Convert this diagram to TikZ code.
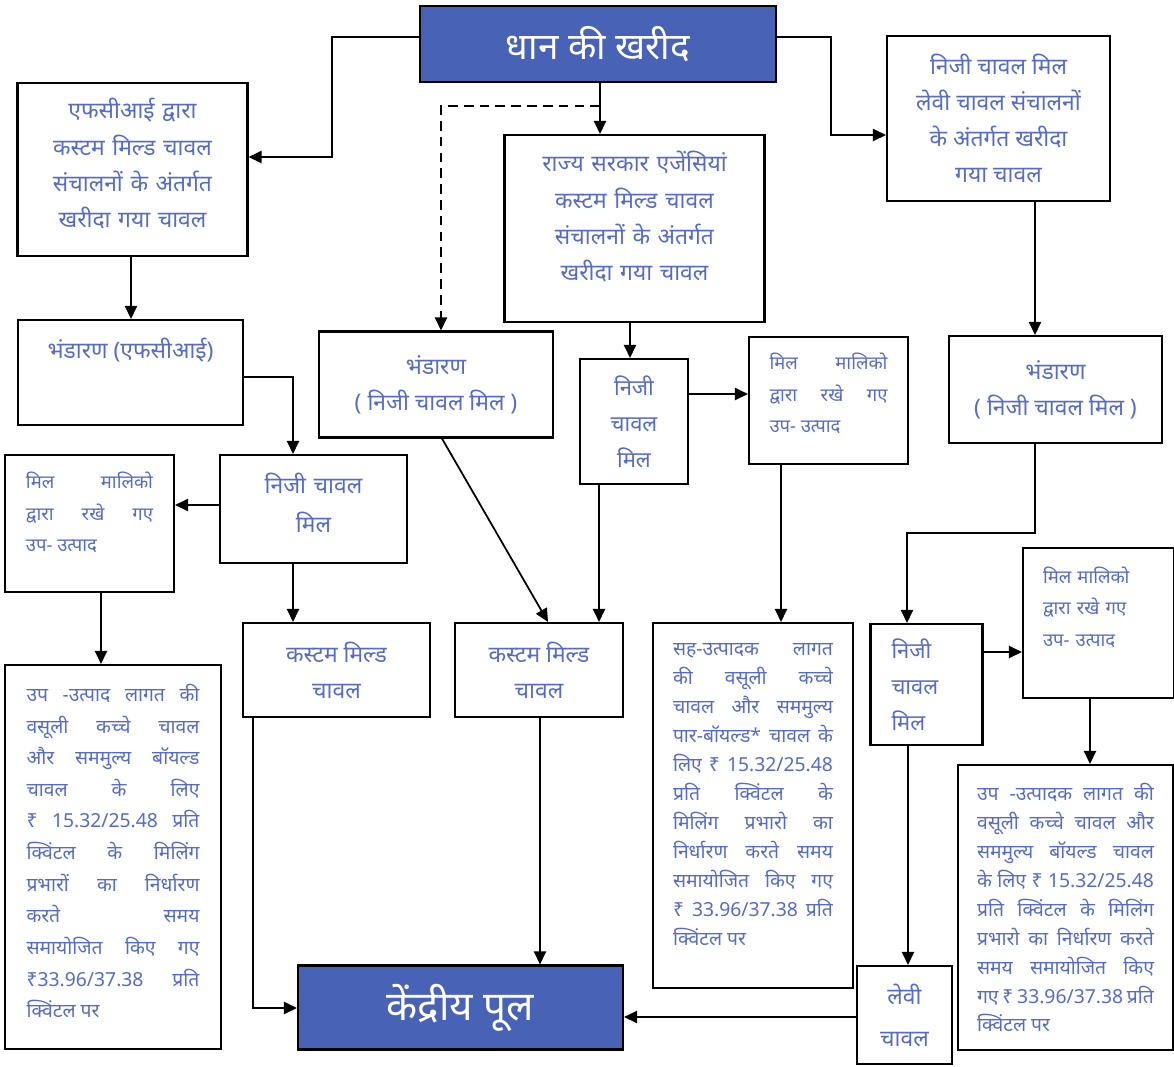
\documentclass[tikz,border=0pt]{standalone}
\usepackage{fontspec}
\setmainfont{Noto Sans}[Script=Devanagari]
\usetikzlibrary{arrows.meta}
\definecolor{hdblue}{RGB}{72,99,181}
\definecolor{txblue}{RGB}{86,108,196}
\newcommand{\boxfont}{\fontsize{13}{20.5}\selectfont}
\newcommand{\millfont}{\fontsize{12.5}{20.5}\selectfont}
\newcommand{\bypfont}{\fontsize{10.5}{18}\selectfont}
\newcommand{\notefont}{\fontsize{11}{16.5}\selectfont}
\newcommand{\headfont}{\fontsize{21}{24}\selectfont}
% push a block of text up inside its box (offset in pixels)
\newcommand{\lift}[1]{\par\vspace*{\dimexpr 0.04cm*#1\relax}}
\tolerance=10000
\hbadness=10000
\hyphenpenalty=10000

\begin{document}
\begin{tikzpicture}[x=0.02cm, y=-0.02cm, >={Triangle[length=7.5pt,width=7pt]},
		box/.style={draw, line width=1.2pt, text=txblue, inner sep=0pt, align=center, font=\boxfont},
		sz/.style 2 args={minimum width=#1*0.02cm, minimum height=#2*0.02cm},
		head/.style={box, fill=hdblue, text=white, font=\headfont},
		note/.style={box, font=\notefont, align=justify, text width=#1*0.02cm},
		arr/.style={->, line width=1pt}]
		\path[use as bounding box, fill=white] (0,0) rectangle (1174,1066);
		% procurement and the three purchase routes
		\node[head, sz={356}{76}] (paddy) at (598,44) {धान की खरीद};
		\node[box, sz={230}{173}, text width=210*0.02cm] (fci) at (132.5,169.5) {एफसीआई द्वारा\\ कस्टम मिल्ड चावल\\ संचालनों के अंतर्गत\\ खरीदा गया चावल\lift{6}};
		\node[box, sz={260}{187}, text width=240*0.02cm] (state) at (634.5,228.5) {राज्य सरकार एजेंसियां\\ कस्टम मिल्ड चावल\\ संचालनों के अंतर्गत\\ खरीदा गया चावल\lift{12}};
		\node[box, sz={223}{165}] (levy) at (998.5,118.5) {निजी चावल मिल\\ लेवी चावल संचालनों\\ के अंतर्गत खरीदा\\ गया चावल};
		% storage
		\node[box, sz={225}{105}, text depth=28pt] (storfci) at (130.5,372.5) {भंडारण (एफसीआई)};
		\node[box, sz={234}{106}] (stormid) at (436,384.5) {भंडारण\\ ( निजी चावल मिल )};
		\node[box, sz={213}{107}] (storlev) at (1055.5,389.5) {भंडारण\\ ( निजी चावल मिल )};
		% mills and by-products
		\node[box, sz={187}{108}, font=\fontsize{13}{22.5}\selectfont, text width=160*0.02cm] (millfci) at (313.5,509) {निजी चावल\\ मिल\lift{6}};
		\node[note=127, sz={169}{137}, font=\bypfont] (bypfci) at (89.5,523.5) {मिल मालिको\linebreak द्वारा रखे गए\linebreak उप- उत्पाद\lift{11}};
		\node[box, sz={108}{125}, font=\millfont] (millst) at (634,421.5) {निजी\\ चावल\\ मिल};
		\node[note=118, sz={159}{127}, font=\bypfont] (bypst) at (828.5,400.5) {मिल मालिको\linebreak द्वारा रखे गए\linebreak उप- उत्पाद\lift{7}};
		\node[box, sz={112}{121}, font=\millfont, text width=70*0.02cm, align=left] (milllev) at (926.5,684.5) {निजी\\ चावल\\ मिल};
		\node[box, sz={151}{150}, font=\bypfont, text width=111*0.02cm, align=left] (byplev) at (1098.5,623) {मिल मालिको\\ द्वारा रखे गए\\ उप- उत्पाद\lift{16}};
		\node[box, sz={187}{94}] (cmrfci) at (336.5,670) {कस्टम मिल्ड\\ चावल};
		\node[box, sz={168}{94}] (cmrst) at (539,670) {कस्टम मिल्ड\\ चावल};
		% cost notes
		\node[note=173, sz={216}{384}, font=\fontsize{11}{18}\selectfont] (notefci) at (113,857) {उप -उत्पाद लागत की\linebreak वसूली कच्चे चावल\linebreak और सममुल्य बॉयल्ड\linebreak चावल के लिए\linebreak ₹ 15.32/25.48 प्रति\linebreak क्विंटल के मिलिंग\linebreak प्रभारों का निर्धारण\linebreak करते समय\linebreak समायोजित किए गए\linebreak ₹33.96/37.38 प्रति\linebreak क्विंटल पर\lift{6}};
		\node[note=160, sz={200}{365}] (notest) at (753,805.5) {सह-उत्पादक लागत\linebreak की वसूली कच्चे\linebreak चावल और सममुल्य\linebreak पार-बॉयल्ड* चावल के\linebreak लिए ₹ 15.32/25.48\linebreak प्रति क्विंटल के\linebreak मिलिंग प्रभारो का\linebreak निर्धारण करते समय\linebreak समायोजित किए गए\linebreak ₹ 33.96/37.38 प्रति\linebreak क्विंटल पर\lift{11}};
		\node[note=177, sz={215}{285}] (notelev) at (1065.5,907.5) {उप -उत्पादक लागत की\linebreak वसूली कच्चे चावल और\linebreak सममुल्य बॉयल्ड चावल\linebreak के लिए ₹ 15.32/25.48\linebreak प्रति क्विंटल के मिलिंग\linebreak प्रभारो का निर्धारण करते\linebreak समय समायोजित किए\linebreak गए ₹ 33.96/37.38 प्रति\linebreak क्विंटल पर};
		% central pool
		\node[head, sz={325}{84}, font=\fontsize{23}{26}\selectfont] (pool) at (460.5,1007.5) {केंद्रीय पूल};
		\node[box, sz={95}{98}, font=\fontsize{13}{24}\selectfont] (levyrice) at (904.5,1015) {लेवी\\ चावल};
		% connectors
		\draw[arr] (paddy.west |- 0,37) -| (332,157) -- (fci.east |- 0,157);
		\draw[arr] (paddy.east |- 0,37) -| (831,135) -- (levy.west |- 0,135);
		\draw[arr] (paddy.south -| 600,0) -- (state.north -| 600,0);
		\draw[arr, dashed, dash pattern=on 5.5pt off 3.5pt] (600,106) -| (stormid.north -| 441,0);
		\draw[arr] (fci.south -| 131,0) -- (storfci.north -| 131,0);
		\draw[arr] (storfci.east |- 0,377) -| (millfci.north -| 293,0);
		\draw[arr] (millfci.west |- 0,505) -- (bypfci.east |- 0,505);
		\draw[arr] (millfci.south -| 293,0) -- (cmrfci.north -| 293,0);
		\draw[arr] (bypfci.south -| 101,0) -- (notefci.north -| 101,0);
		\draw[arr] (cmrfci.south -| 253,0) |- (pool.west |- 0,1008);
		\draw[arr] (stormid.south -| 442,0) -- (cmrst.north -| 548,0);
		\draw[arr] (state.south -| 630,0) -- (millst.north -| 630,0);
		\draw[arr] (millst.east |- 0,394) -- (bypst.west |- 0,394);
		\draw[arr] (millst.south -| 599,0) -- (cmrst.north -| 599,0);
		\draw[arr] (cmrst.south -| 540,0) -- (pool.north -| 540,0);
		\draw[arr] (bypst.south -| 781,0) -- (notest.north -| 781,0);
		\draw[arr] (levy.south -| 1035,0) -- (storlev.north -| 1035,0);
		\draw[arr] (storlev.south -| 1035,0) |- (907,533) -- (milllev.north -| 907,0);
		\draw[arr] (milllev.east |- 0,652) -- (byplev.west |- 0,652);
		\draw[arr] (milllev.south -| 908,0) -- (levyrice.north -| 908,0);
		\draw[arr] (byplev.south -| 1090,0) -- (notelev.north -| 1090,0);
		\draw[arr] (levyrice.west |- 0,1017) -- (pool.east |- 0,1017);
	\end{tikzpicture}
\end{document}
